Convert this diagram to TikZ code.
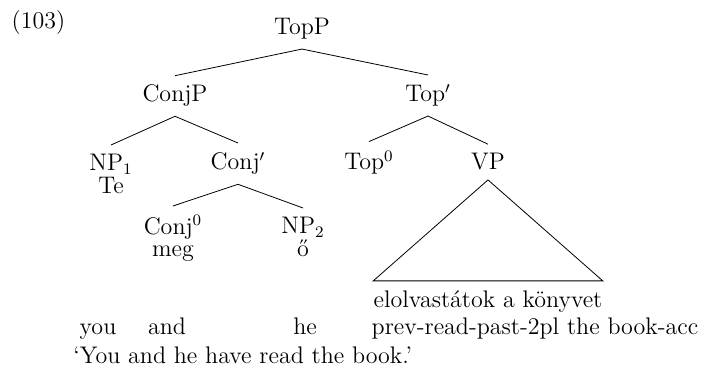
\documentclass[12pt,tikz,border=0pt]{standalone}
\usepackage{fontspec}
\usepackage{amsmath}

\begin{document}
\begin{tikzpicture}[x=0.5pt,y=-0.5pt,cat/.style={anchor=base,inner xsep=1pt,inner ysep=4.5pt},leaf/.style={anchor=north,align=center,inner xsep=1pt,inner ysep=4.5pt},wd/.style={anchor=base,inner sep=0pt}]
        \useasboundingbox (0,0) rectangle (705,368);
        \node[wd] (ex) at (38.5,29) {(103)};
        % the tree
        \node[cat] (topp) at (302,35) {TopP};
        \node[cat] (conjp) at (175,102) {ConjP};
        \node[cat] (topbar) at (428,102) {Top\('\)};
        \node[leaf] (np1) at (111,145) {NP\(_1\)\\[-3pt]Te};
        \node[cat] (conjbar) at (238,170) {Conj\('\)};
        \node[cat] (top0) at (369,170) {Top\(^0\)};
        \node[cat] (vp) at (488,170) {VP};
        \node[leaf] (conj0) at (173,206) {Conj\(^0\)\\[-3.5pt]meg};
        \node[leaf] (np2) at (303,208) {NP\(_2\)\\[-3pt]ő};
        \node[cat,inner xsep=0pt] (elo) at (488,307) {elolvastátok a könyvet};
        \draw (topp.south)--(conjp.north);
        \draw (topp.south)--(topbar.north);
        \draw (conjp.south)--(np1.north);
        \draw (conjp.south)--(conjbar.north);
        \draw (conjbar.south)--(conj0.north);
        \draw (conjbar.south)--(np2.north);
        \draw (topbar.south)--(top0.north);
        \draw (topbar.south)--(vp.north);
        \draw (vp.south)--(elo.north west)--(elo.north east)--cycle;
        % gloss and translation
        \node[wd] (you) at (98,334) {you};
        \node[wd] (and) at (167,334) {and};
        \node[wd] (he) at (305,334) {he};
        \node[wd] (prev) at (535,334) {prev-read-past-2pl the book-acc};
        \node[wd,anchor=base west] (trans) at (73,363) {‘You and he have read the book.’};
\end{tikzpicture}
\end{document}
